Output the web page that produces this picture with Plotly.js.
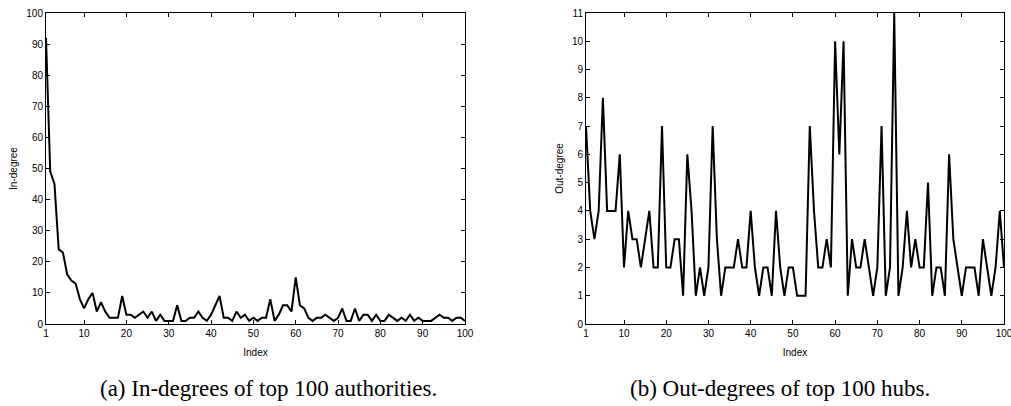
<!DOCTYPE html>
<html>
<head>
<meta charset="utf-8">
<script src="https://cdn.plot.ly/plotly-3.0.1.min.js"></script>
<style>
html,body{margin:0;padding:0;background:#fff;}
#chart{width:1011px;height:406px;}
</style>
</head>
<body>
<div id="chart"></div>
<script>
// ---- data ----
const indexValues = Array.from({length: 100}, (_, i) => i + 1);

const inDegrees = [
  92, 49, 45, 24, 23, 16, 14, 13, 8, 5,
  8, 10, 4, 7, 4, 2, 2, 2, 9, 3,
  3, 2, 3, 4, 2, 4, 1, 3, 1, 1,
  1, 6, 1, 1, 2, 2, 4, 2, 1, 3,
  6, 9, 2, 2, 1, 4, 2, 3, 1, 2,
  1, 2, 2, 8, 1, 3, 6, 6, 4, 15,
  6, 5, 2, 1, 2, 2, 3, 2, 1, 2,
  5, 1, 1, 5, 1, 3, 3, 1, 3, 1,
  1, 3, 2, 1, 2, 1, 3, 1, 2, 1,
  1, 1, 2, 3, 2, 2, 1, 2, 2, 1
];

const outDegrees = [
  7, 4, 3, 4, 8, 4, 4, 4, 6, 2,
  4, 3, 3, 2, 3, 4, 2, 2, 7, 2,
  2, 3, 3, 1, 6, 4, 1, 2, 1, 2,
  7, 3, 1, 2, 2, 2, 3, 2, 2, 4,
  2, 1, 2, 2, 1, 4, 2, 1, 2, 2,
  1, 1, 1, 7, 4, 2, 2, 3, 2, 10,
  6, 10, 1, 3, 2, 2, 3, 2, 1, 2,
  7, 1, 2, 11, 1, 2, 4, 2, 3, 2,
  2, 5, 1, 2, 2, 1, 6, 3, 2, 1,
  2, 2, 2, 1, 3, 2, 1, 2, 4, 2
];

const xTickVals = [1, 10, 20, 30, 40, 50, 60, 70, 80, 90, 100];
const xTickText = ['1', '10', '20', '30', '40', '50', '60', '70', '80', '90', '100'];
const yTicksLeft = [0, 10, 20, 30, 40, 50, 60, 70, 80, 90, 100];
const yTicksRight = [0, 1, 2, 3, 4, 5, 6, 7, 8, 9, 10, 11];

const xTitle = 'Index';
const yTitleLeft = 'In-degree';
const yTitleRight = 'Out-degree';
const captionLeft = '(a) In-degrees of top 100 authorities.';
const captionRight = '(b) Out-degrees of top 100 hubs.';

// ---- layout helpers ----
const W = 1011, H = 406;
const px = v => v / W;
const py = v => 1 - v / H;

const axisFont = {family: 'Liberation Sans, Arial, sans-serif', size: 10, color: '#000'};

function xAxis(domain) {
  return {
    domain: domain,
    range: [1, 100],
    tickmode: 'array',
    tickvals: xTickVals,
    ticktext: xTickText,
    ticks: 'inside',
    ticklen: 4,
    tickwidth: 1,
    tickcolor: '#000',
    mirror: 'ticks',
    showline: true,
    linecolor: '#000',
    linewidth: 1,
    showgrid: false,
    zeroline: false,
    tickfont: axisFont,
    ticklabeloverflow: 'allow',
    automargin: false,
    title: {text: xTitle, font: axisFont, standoff: 10}
  };
}

function yAxis(range, tickvals, title, anchor) {
  return {
    domain: [py(324), py(13)],
    range: range,
    tickmode: 'array',
    tickvals: tickvals,
    ticks: 'inside',
    ticklen: 4,
    tickwidth: 1,
    tickcolor: '#000',
    mirror: 'ticks',
    showline: true,
    linecolor: '#000',
    linewidth: 1,
    showgrid: false,
    zeroline: false,
    tickfont: axisFont,
    ticklabeloverflow: 'allow',
    automargin: false,
    anchor: anchor,
    title: {text: title, font: axisFont, standoff: 6}
  };
}

const traces = [
  {
    x: indexValues, y: inDegrees, type: 'scatter', mode: 'lines',
    line: {color: '#000', width: 2}, xaxis: 'x', yaxis: 'y', cliponaxis: true
  },
  {
    x: indexValues, y: outDegrees, type: 'scatter', mode: 'lines',
    line: {color: '#000', width: 2}, xaxis: 'x2', yaxis: 'y2', cliponaxis: true
  }
];

const xa1 = xAxis([px(46), px(465)]); xa1.anchor = 'y';
const xa2 = xAxis([px(586), px(1004)]); xa2.anchor = 'y2';

const captionFont = {family: 'Liberation Serif, Times New Roman, serif', size: 23, color: '#000'};

const layout = {
  width: W, height: H,
  margin: {l: 0, r: 0, t: 0, b: 0, pad: 0},
  paper_bgcolor: '#fff',
  plot_bgcolor: '#fff',
  showlegend: false,
  font: axisFont,
  xaxis: xa1,
  yaxis: yAxis([0, 100], yTicksLeft, yTitleLeft, 'x'),
  xaxis2: xa2,
  yaxis2: yAxis([0, 11], yTicksRight, yTitleRight, 'x2'),
  annotations: [
    {
      text: captionLeft, xref: 'paper', yref: 'paper',
      x: px(268), y: py(388), xanchor: 'center', yanchor: 'middle',
      showarrow: false, font: captionFont
    },
    {
      text: captionRight, xref: 'paper', yref: 'paper',
      x: px(780), y: py(388), xanchor: 'center', yanchor: 'middle',
      showarrow: false, font: captionFont
    }
  ]
};

Plotly.newPlot('chart', traces, layout, {staticPlot: true, displayModeBar: false});
</script>
</body>
</html>
